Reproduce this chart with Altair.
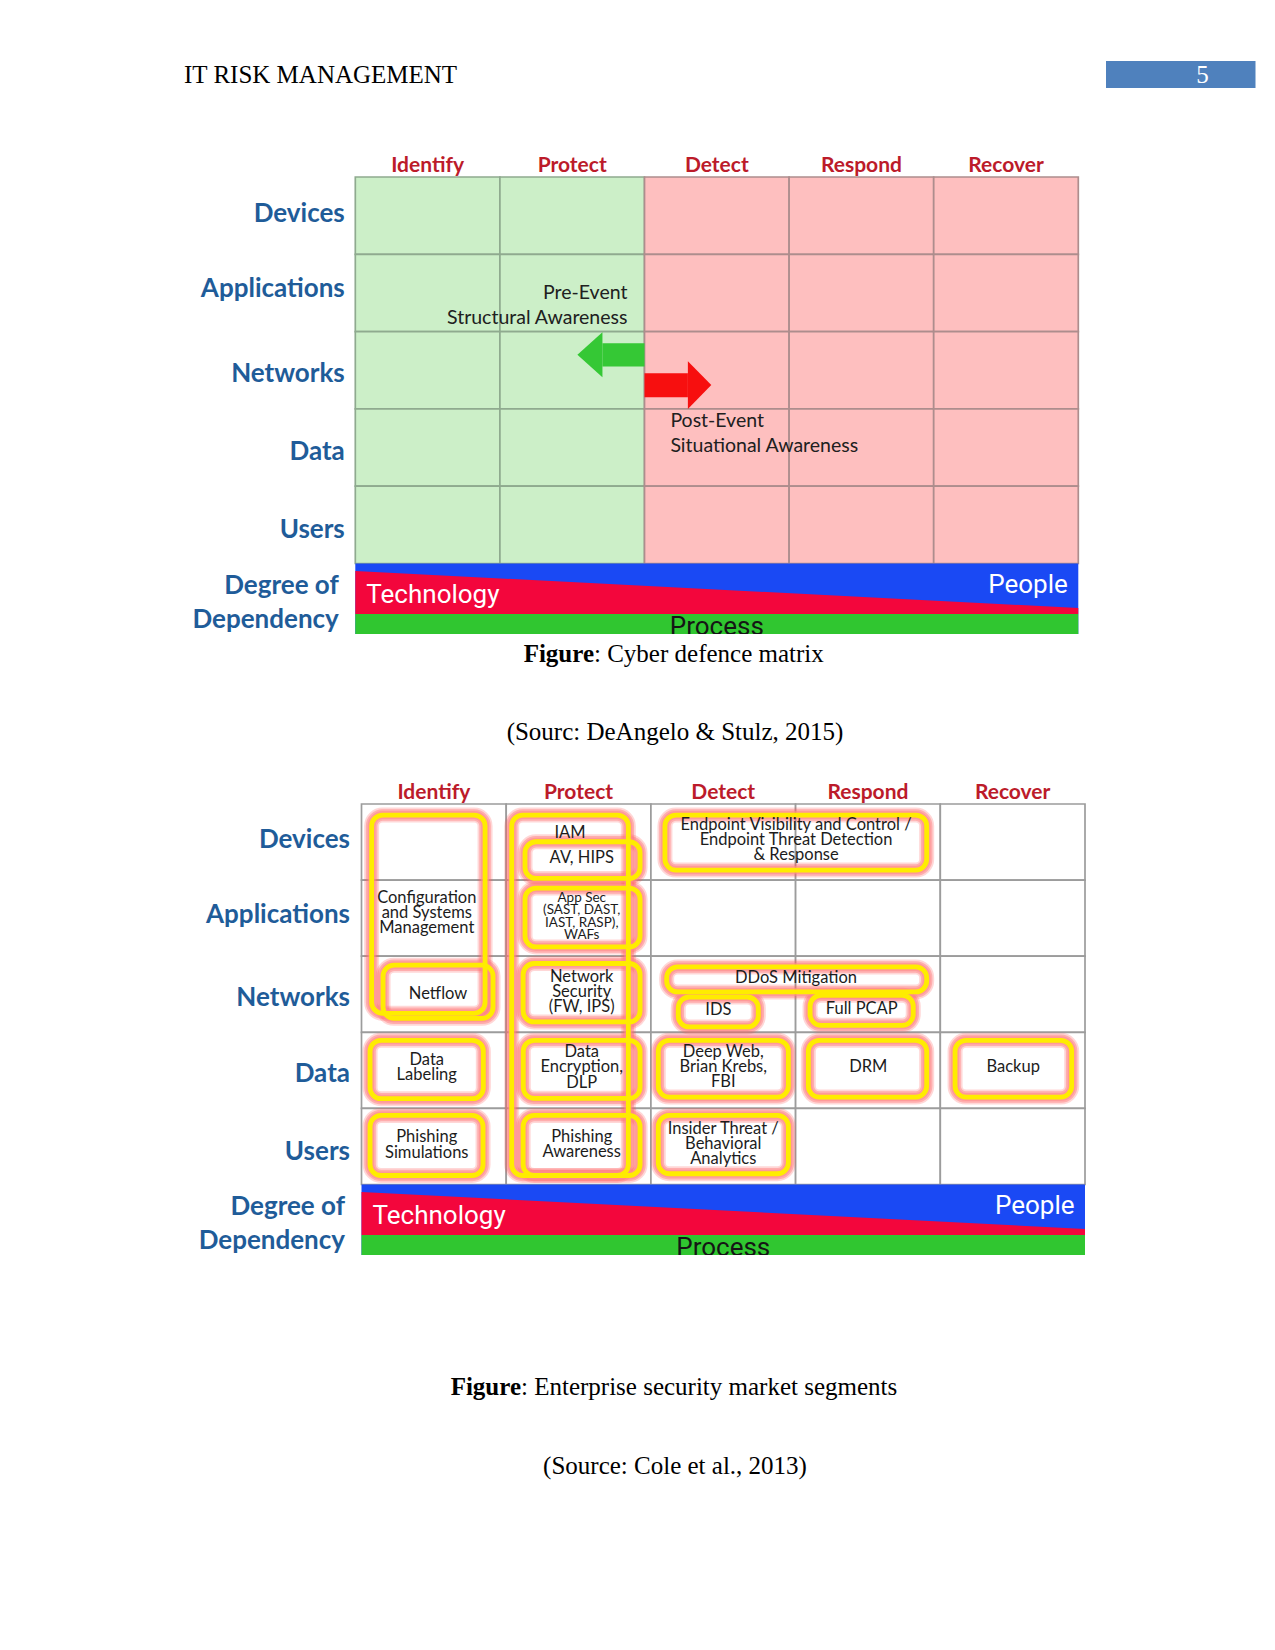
import altair as alt
import pandas as pd

# ---------------- data read from the page ----------------
header_text = "IT RISK MANAGEMENT"
page_number = "5"

columns = ["Identify", "Protect", "Detect", "Respond", "Recover"]
rows = ["Devices", "Applications", "Networks", "Data", "Users"]
row_label_y = [0.475, 1.455, 2.552, 3.553, 4.573]
dependency_label = "Degree of\nDependency"
dependency_y = 5.515
band_words = ["Technology", "People", "Process"]

# figure 1 : cyber defence matrix
fig1_phase = ["pre", "pre", "post", "post", "post"]
fig1_notes = ["Pre-Event\nStructural Awareness", "Post-Event\nSituational Awareness"]
fig1_note_x = [1.882, 2.179]
fig1_note_y = [1.664, 3.318]

arrow_phase = ["pre", "post"]
arrow_shaft_x0 = [1.709, 2.000]
arrow_shaft_x1 = [2.000, 2.300]
arrow_shaft_y0 = [2.150, 2.539]
arrow_shaft_y1 = [2.452, 2.850]
arrow_tip_x = [1.536, 2.462]
arrow_base_x = [1.709, 2.300]
arrow_head_y0 = [2.008, 2.383]
arrow_head_y1 = [2.591, 3.000]

# figure 2 : enterprise security market segments (boxes in cell units)
seg_text = [
    "Configuration\nand Systems\nManagement", "IAM", "Netflow", "AV, HIPS",
    "App Sec\n(SAST, DAST,\nIAST, RASP),\nWAFs", "Network\nSecurity\n(FW, IPS)",
    "Endpoint Visibility and Control /\nEndpoint Threat Detection\n& Response",
    "DDoS Mitigation", "IDS", "Full PCAP",
    "Data\nLabeling", "Data\nEncryption,\nDLP", "Deep Web,\nBrian Krebs,\nFBI", "DRM", "Backup",
    "Phishing\nSimulations", "Phishing\nAwareness", "Insider Threat /\nBehavioral\nAnalytics"]
seg_x0 = [0.070, 1.038, 0.149, 1.130, 1.130, 1.117, 2.097, 2.109, 2.189, 3.100,
          0.059, 1.118, 2.051, 3.088, 4.102, 0.059, 1.117, 2.051]
seg_x1 = [0.854, 1.844, 0.909, 1.925, 1.925, 1.925, 3.906, 3.906, 2.742, 3.813,
          0.842, 1.925, 2.950, 3.906, 4.908, 0.840, 1.925, 2.950]
seg_y0 = [0.145, 0.145, 2.118, 0.496, 1.105, 2.096, 0.145, 2.141, 2.536, 2.513,
          3.105, 3.105, 3.105, 3.105, 3.105, 4.092, 4.092, 4.092]
seg_y1 = [2.750, 4.882, 2.816, 0.978, 1.878, 2.864, 0.868, 2.470, 2.930, 2.908,
          3.872, 3.868, 3.851, 3.851, 3.851, 4.882, 4.882, 4.859]
seg_tx = [0.451, 1.441, 0.529, 1.522, 1.522, 1.522, 3.003, 3.003, 2.466, 3.457,
          0.451, 1.522, 2.500, 3.502, 4.504, 0.451, 1.522, 2.500]
seg_ty = [1.430, 0.382, 2.500, 0.714, 1.478, 2.474, 0.474, 2.293, 2.701, 2.688,
          3.467, 3.461, 3.459, 3.457, 3.457, 4.480, 4.476, 4.464]

caption_bold = ["Figure", "Figure"]
caption_rest = [": Cyber defence matrix", ": Enterprise security market segments"]
caption_source = ["(Sourc: DeAngelo & Stulz, 2015)", "(Source: Cole et al., 2013)"]

# ---------------- layout / style ----------------
W = 1259
BAND_H = 70.5
RED_TOP = (7.5, 44.5)
RED_BOTTOM = 50.5

FIG1 = dict(gx0=355.3, gx1=1078.3, gy0=177.0, rh=77.3, top=130.0, bottom=634.0,
            label_dx=-10.5)
FIG2 = dict(gx0=361.5, gx1=1085.0, gy0=804.0, rh=76.1, top=780.0, bottom=1255.0,
            label_dx=-11.5)

ROW_BLUE = "#1F5C99"
COL_RED = "#BC1B2A"
BAND_BLUE = "#1A49F4"
BAND_RED = "#F3063C"
BAND_GREEN = "#30C630"
CELL_GREEN, CELL_RED = "#CCEFC8", "#FEBFBF"
LINE_GREEN, LINE_RED, LINE_GREY = "#8FAA8F", "#AD8D8D", "#9C9C9C"
SANS = "Lato, Open Sans, sans-serif"
BAND_FONT = "Roboto, Liberation Sans, sans-serif"
SERIF = "Liberation Serif, Times New Roman, serif"


def make_scales(g):
    cw = (g["gx1"] - g["gx0"]) / 5.0
    rh = g["rh"]
    xs = alt.Scale(domain=[(8 - g["gx0"]) / cw, (8 + W - g["gx0"]) / cw], nice=False, zero=False)
    ys = alt.Scale(domain=[(g["top"] - g["gy0"]) / rh, (g["bottom"] - g["gy0"]) / rh],
                   nice=False, zero=False, reverse=True)
    return xs, ys


def enc(xs, ys, x="x", y="y", x2=None, y2=None, **kw):
    e = dict(x=alt.X(f"{x}:Q", scale=xs, axis=None), y=alt.Y(f"{y}:Q", scale=ys, axis=None))
    if x2:
        e["x2"] = alt.X2(x2)
    if y2:
        e["y2"] = alt.Y2(y2)
    e.update(kw)
    return e


def explode(texts, xs_, ys_, line_px, rh):
    """One row per text line, each line centred around the block's centre."""
    out = []
    for t, x, y in zip(texts, xs_, ys_):
        lines = t.split("\n")
        n = len(lines)
        for i, ln in enumerate(lines):
            out.append(dict(t=ln, x=x, y=y + (i - (n - 1) / 2.0) * line_px / rh, block=t))
    return pd.DataFrame(out)


def common_layers(g, xs, ys, fills, strokes, stroke_w):
    rh = g["rh"]
    cells = pd.DataFrame([
        dict(x=c, x2=c + 1, y=r, y2=r + 1, fill=fills[c], stroke=strokes[c])
        for c in range(5) for r in range(5)])
    cell_layer = alt.Chart(cells).mark_rect(strokeWidth=stroke_w).encode(
        **enc(xs, ys, "x", "y", "x2", "y2",
              fill=alt.Fill("fill:N", scale=None), stroke=alt.Stroke("stroke:N", scale=None)))

    k = lambda px: 5 + px / rh
    blue = alt.Chart(pd.DataFrame({"x": [0.0], "x2": [5.0], "y": [5.0], "y2": [k(BAND_H)]})) \
        .mark_rect(color=BAND_BLUE).encode(**enc(xs, ys, "x", "y", "x2", "y2"))
    red = alt.Chart(pd.DataFrame({"x": [0.0, 5.0], "y": [k(RED_TOP[0]), k(RED_TOP[1])],
                                  "y2": [k(RED_BOTTOM)] * 2})) \
        .mark_area(color=BAND_RED).encode(**enc(xs, ys, "x", "y", None, "y2"))
    green = alt.Chart(pd.DataFrame({"x": [0.0], "x2": [5.0], "y": [k(RED_BOTTOM)], "y2": [k(BAND_H)]})) \
        .mark_rect(color=BAND_GREEN).encode(**enc(xs, ys, "x", "y", "x2", "y2"))

    bt = pd.DataFrame({"t": band_words, "x": [0.0, 5.0, 2.5], "y": [k(31.2), k(21.2), k(63.5)]})
    tech = alt.Chart(bt).transform_filter(alt.datum.t == band_words[0]).mark_text(
        align="left", baseline="middle", dx=11, font=BAND_FONT, fontSize=26, color="white"
    ).encode(**enc(xs, ys, text="t:N"))
    people = alt.Chart(bt).transform_filter(alt.datum.t == band_words[1]).mark_text(
        align="right", baseline="middle", dx=-10.5, font=BAND_FONT, fontSize=26, color="white"
    ).encode(**enc(xs, ys, text="t:N"))
    process = alt.Chart(bt).transform_filter(alt.datum.t == band_words[2]).mark_text(
        align="center", baseline="middle", font=BAND_FONT, fontSize=26, color="#151515", clip=True
    ).encode(**enc(xs, ys, text="t:N"))

    cols = pd.DataFrame({"t": columns, "x": [c + 0.5 for c in range(5)], "y": [0.0] * 5})
    col_layer = alt.Chart(cols).mark_text(
        baseline="middle", dy=-11, font=SANS, fontSize=21, fontWeight="bold", color=COL_RED
    ).encode(**enc(xs, ys, text="t:N"))
    rws = pd.DataFrame({"t": rows, "x": [0.0] * 5, "y": row_label_y})
    row_layer = alt.Chart(rws).mark_text(
        align="right", baseline="middle", dx=g["label_dx"], font=SANS, fontSize=26,
        fontWeight="bold", color=ROW_BLUE
    ).encode(**enc(xs, ys, text="t:N"))
    dep = explode([dependency_label], [0.0], [dependency_y], 34, rh)
    dep_layer = alt.Chart(dep).mark_text(
        align="right", baseline="middle", dx=-16.5, font=SANS, fontSize=26, fontWeight="bold",
        color=ROW_BLUE
    ).encode(**enc(xs, ys, text="t:N"))
    return [cell_layer, blue, red, green], [tech, people, process, col_layer, row_layer, dep_layer]


# ---------------- header ----------------
one = pd.DataFrame({"t": [header_text], "n": [page_number]})
header = alt.layer(
    alt.Chart(one).mark_rect(color="#4F81BD").encode(
        x=alt.value(1098), x2=alt.value(1247.5), y=alt.value(53), y2=alt.value(80)),
    alt.Chart(one).mark_text(align="center", baseline="middle", font=SERIF, fontSize=25,
                             color="white").encode(x=alt.value(1194.5), y=alt.value(67), text="n:N"),
    alt.Chart(one).mark_text(align="left", baseline="middle", font=SERIF, fontSize=25,
                             color="black").encode(x=alt.value(176), y=alt.value(67), text="t:N"),
).properties(width=W, height=122)

# ---------------- figure 1 ----------------
xs1, ys1 = make_scales(FIG1)
fills1 = [CELL_GREEN if p == "pre" else CELL_RED for p in fig1_phase]
strokes1 = [LINE_GREEN if p == "pre" else LINE_RED for p in fig1_phase]
base1, top1 = common_layers(FIG1, xs1, ys1, fills1, strokes1, 1.7)

arrow_color = {"pre": "#35C835", "post": "#F70F0F"}
shafts = pd.DataFrame({"a": arrow_phase, "x": arrow_shaft_x0, "x2": arrow_shaft_x1,
                       "y": arrow_shaft_y0, "y2": arrow_shaft_y1,
                       "c": [arrow_color[a] for a in arrow_phase]})
heads_rows = []
for i, a in enumerate(arrow_phase):
    mid = (arrow_head_y0[i] + arrow_head_y1[i]) / 2
    heads_rows.append(dict(a=a, x=arrow_tip_x[i], y=mid, y2=mid, c=arrow_color[a]))
    heads_rows.append(dict(a=a, x=arrow_base_x[i], y=arrow_head_y0[i], y2=arrow_head_y1[i], c=arrow_color[a]))
heads = pd.DataFrame(heads_rows)
shaft_layer = alt.Chart(shafts).mark_rect().encode(
    **enc(xs1, ys1, "x", "y", "x2", "y2", fill=alt.Fill("c:N", scale=None)))
head_layer = alt.Chart(heads).mark_area().encode(
    **enc(xs1, ys1, "x", "y", None, "y2", fill=alt.Fill("c:N", scale=None), detail="a:N"))

pre_df = explode([fig1_notes[0]], [fig1_note_x[0]], [fig1_note_y[0]], 24.5, FIG1["rh"])
post_df = explode([fig1_notes[1]], [fig1_note_x[1]], [fig1_note_y[1]], 25.5, FIG1["rh"])
pre_note = alt.Chart(pre_df).mark_text(
    align="right", baseline="middle", font=SANS, fontSize=19.5, color="#202020"
).encode(**enc(xs1, ys1, text="t:N"))
post_note = alt.Chart(post_df).mark_text(
    align="left", baseline="middle", font=SANS, fontSize=19.5, color="#202020"
).encode(**enc(xs1, ys1, text="t:N"))

fig1 = alt.layer(*base1, shaft_layer, head_layer, pre_note, post_note, *top1).properties(
    width=W, height=FIG1["bottom"] - FIG1["top"])


# ---------------- captions ----------------
def caption_panel(i, bold_edge, y_cap, y_src, h):
    d = pd.DataFrame({"b": [caption_bold[i]], "r": [caption_rest[i]], "s": [caption_source[i]]})
    return alt.layer(
        alt.Chart(d).mark_text(align="right", baseline="middle", font=SERIF, fontSize=25,
                               fontWeight="bold", color="black").encode(
            x=alt.value(bold_edge), y=alt.value(y_cap), text="b:N"),
        alt.Chart(d).mark_text(align="left", baseline="middle", font=SERIF, fontSize=25,
                               color="black").encode(
            x=alt.value(bold_edge), y=alt.value(y_cap), text="r:N"),
        alt.Chart(d).mark_text(align="center", baseline="middle", font=SERIF, fontSize=25,
                               color="black").encode(
            x=alt.value(667), y=alt.value(y_src), text="s:N"),
    ).properties(width=W, height=h)


cap1 = caption_panel(0, 586, 20, 98, FIG2["top"] - FIG1["bottom"])

# ---------------- figure 2 ----------------
xs2, ys2 = make_scales(FIG2)
base2, top2 = common_layers(FIG2, xs2, ys2, ["white"] * 5, [LINE_GREY] * 5, 1.7)

seg = pd.DataFrame({"t": seg_text, "x0": seg_x0, "x1": seg_x1, "y0": seg_y0, "y1": seg_y1})


def box_layer(width, color, opacity):
    return alt.Chart(seg).mark_rect(filled=False, stroke=color, strokeWidth=width,
                                    strokeOpacity=opacity, cornerRadius=11).encode(
        **enc(xs2, ys2, "x0", "y0", "x1", "y1"))


glow = [box_layer(15, "#FF4A4A", 0.22), box_layer(11.5, "#FF6A6A", 0.38), box_layer(8, "#FF8C8C", 0.6)]
yellow = box_layer(4.8, "#FFEC00", 1.0)

small_idx = [4]
big_texts = [t for i, t in enumerate(seg_text) if i not in small_idx]
big_tx = [v for i, v in enumerate(seg_tx) if i not in small_idx]
big_ty = [v for i, v in enumerate(seg_ty) if i not in small_idx]
seg_lines = explode(big_texts, big_tx, big_ty, 15.2, FIG2["rh"])
small_lines = explode([seg_text[i] for i in small_idx], [seg_tx[i] for i in small_idx],
                      [seg_ty[i] for i in small_idx], 12.4, FIG2["rh"])

seg_txt = alt.Chart(seg_lines).mark_text(
    align="center", baseline="middle", font=SANS, fontSize=16.5, color="#1C1C1C"
).encode(**enc(xs2, ys2, "x", "y", text="t:N"))
seg_small = alt.Chart(small_lines).mark_text(
    align="center", baseline="middle", font=SANS, fontSize=13.5, color="#1C1C1C"
).encode(**enc(xs2, ys2, "x", "y", text="t:N"))

fig2 = alt.layer(*base2, *glow, yellow, seg_txt, seg_small, *top2).properties(
    width=W, height=FIG2["bottom"] - FIG2["top"])

cap2 = caption_panel(1, 513, 131.6, 210.5, 245)

chart = alt.vconcat(header, fig1, cap1, fig2, cap2, spacing=0, bounds="flush").properties(
    padding=0, background="white").configure_view(strokeWidth=0)

chart.save("out.html", embed_options={"renderer": "svg", "actions": False})
